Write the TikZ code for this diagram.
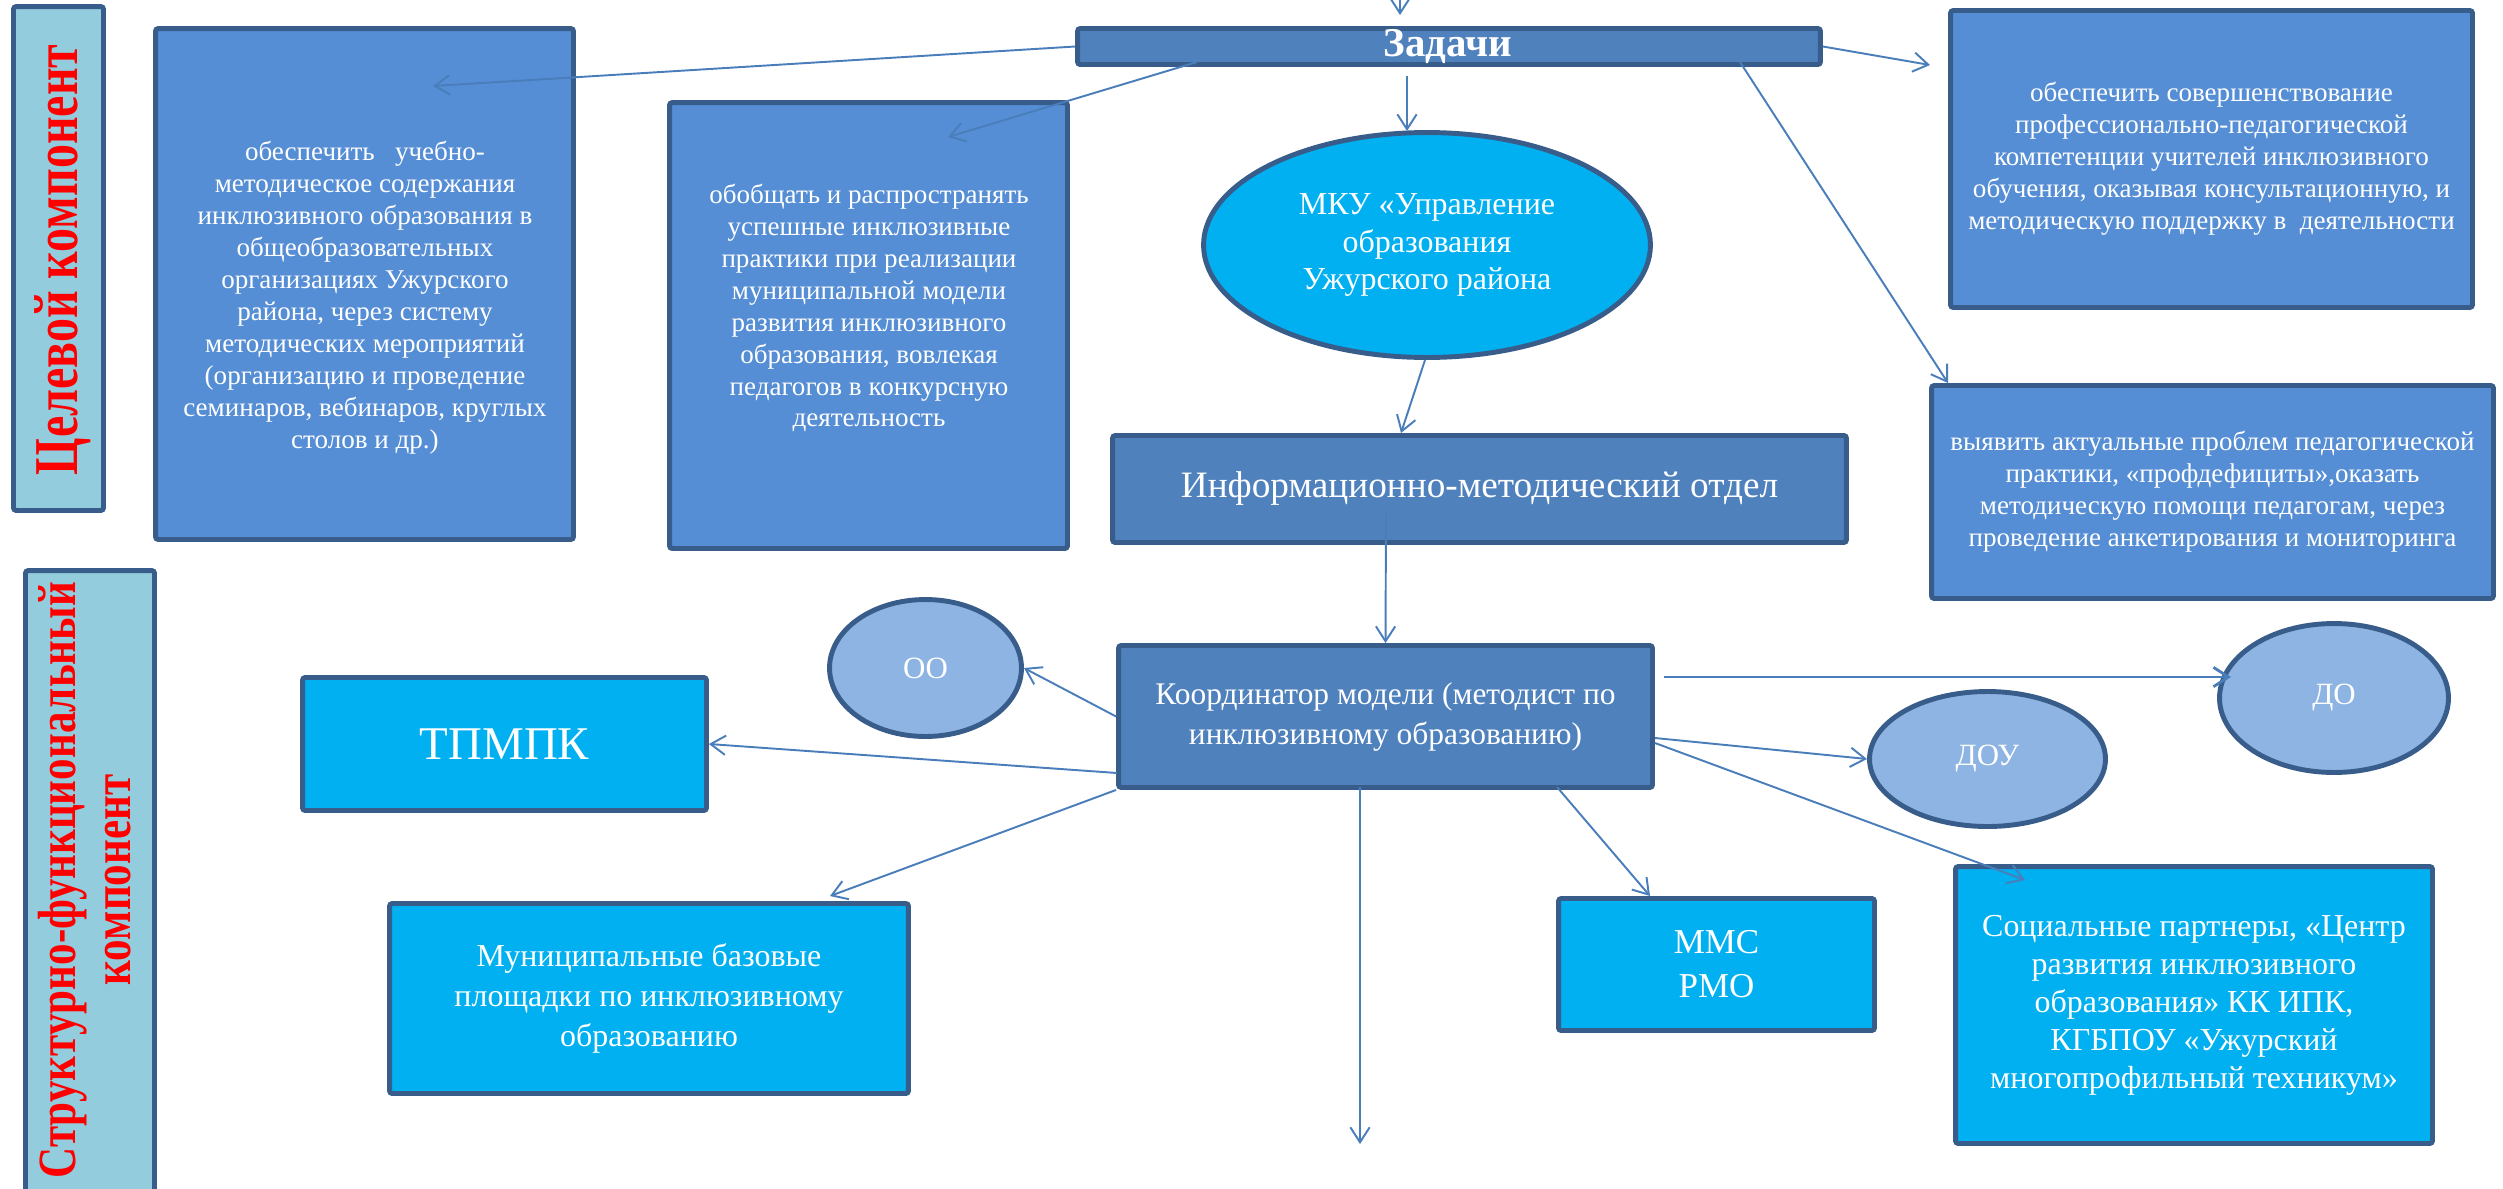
\documentclass[tikz,border=0pt]{standalone}
\usepackage{graphicx}
\usepackage{fontspec}
\setmainfont{Liberation Serif}
\usetikzlibrary{arrows.meta,shapes.geometric}
\definecolor{bord}{HTML}{385D8A}
\definecolor{barfill}{HTML}{93CDDD}
\definecolor{midblue}{HTML}{558ED5}
\definecolor{darkblue}{HTML}{4F81BD}
\definecolor{cyanf}{HTML}{00B0F0}
\definecolor{lightblue}{HTML}{8EB4E3}
\definecolor{arr}{HTML}{4A7EBB}
\begin{document}
\begin{tikzpicture}[x=0.02cm,y=-0.02cm,
  base/.style={draw=bord, line width=2.8pt, inner sep=0pt, text=white, align=center},
  bar/.style={base, rectangle, rounded corners=1.5pt, fill=barfill},
  mbox/.style={base, rectangle, rounded corners=1.5pt, fill=midblue},
  dbox/.style={base, rectangle, rounded corners=1.5pt, fill=darkblue},
  cbox/.style={base, rectangle, rounded corners=1.5pt, fill=cyanf},
  oval/.style={base, ellipse, fill=lightblue, font=\fontsize{17.6pt}{21pt}\selectfont},
  txt/.style={text=white, align=center, inner sep=0pt},
  redlab/.style={text=red, align=center, inner sep=0pt, rotate=90},
  con/.style={draw=arr, line width=1.1pt, -{Straight Barb[length=8.5pt,width=11pt]}},
  fsmall/.style={font=\fontsize{15.4pt}{18.2pt}\selectfont}
]
\useasboundingbox (0,0) rectangle (2503,1188);
\clip (0,0) rectangle (2503,1188);

% side bars
\node[bar, minimum width=1.8cm, minimum height=10.08cm] (bar1) at (58.5,258.5) {};
\node[redlab, font=\bfseries\fontsize{27.3pt}{32pt}\selectfont] (bar1t) at (63,260) {\scalebox{1}[1.3]{Целевой компонент}};
\node[bar, minimum width=2.58cm, minimum height=12.74cm] (bar2) at (90,889) {};
\node[redlab, font=\bfseries\fontsize{24.5pt}{25pt}\selectfont] (bar2t) at (92,880) {\scalebox{1}[1.25]{\begin{tabular}{@{}c@{}}Структурно-функциональный\\компонент\end{tabular}}};

% top row
\node[mbox, minimum width=8.36cm, minimum height=10.22cm] (b1) at (364.5,284) {};
\node[txt, fsmall] (b1t) at (365,298) {обеспечить~~~учебно-\\методическое содержания\\инклюзивного образования в\\общеобразовательных\\организациях Ужурского\\района, через систему\\методических мероприятий\\(организацию и проведение\\семинаров, вебинаров, круглых\\столов и др.)};

\node[mbox, minimum width=7.96cm, minimum height=8.92cm] (b2) at (868.5,325.5) {};
\node[txt, fsmall] (b2t) at (869,308) {обобщать и распространять\\успешные инклюзивные\\практики при реализации\\муниципальной модели\\развития инклюзивного\\образования, вовлекая\\педагогов в конкурсную\\деятельность};

\node[dbox, minimum width=14.86cm, minimum height=0.72cm] (zad) at (1449,46.5) {};
\node[txt, font=\bfseries\fontsize{23.3pt}{26pt}\selectfont] (zadt) at (1448,46) {Задачи};

\node[base, ellipse, fill=cyanf, minimum width=8.94cm, minimum height=4.5cm, font=\fontsize{18.2pt}{21.6pt}\selectfont] (ell) at (1427,245) {МКУ «Управление\\образования\\Ужурского района};

\node[mbox, minimum width=10.44cm, minimum height=5.94cm, fsmall] (b3) at (2211.5,159) {обеспечить совершенствование\\профессионально-педагогической\\компетенции учителей инклюзивного\\обучения, оказывая консультационную, и\\методическую поддержку в~~деятельности};

\node[mbox, minimum width=11.24cm, minimum height=4.26cm, fsmall] (b4) at (2212.5,492) {выявить актуальные проблем педагогической\\практики, «профдефициты»,оказать\\методическую помощи педагогам, через\\проведение анкетирования и мониторинга};

\node[dbox, minimum width=14.68cm, minimum height=2.14cm, font=\fontsize{21.2pt}{25pt}\selectfont] (imo) at (1479.5,489) {Информационно-методический отдел};

% lower part
\node[dbox, minimum width=10.68cm, minimum height=2.84cm, font=\fontsize{17.9pt}{22.8pt}\selectfont] (koord) at (1385.5,716.5) {Координатор модели (методист по\\инклюзивному образованию)};

\node[oval, minimum width=3.84cm, minimum height=2.74cm] (oo) at (925.5,668) {ОО};
\node[oval, minimum width=4.72cm, minimum height=2.7cm] (dou) at (1987.5,759) {ДОУ};
\node[oval, minimum width=4.58cm, minimum height=2.98cm] (do) at (2334,698) {ДО};

\node[cbox, minimum width=8.08cm, minimum height=2.66cm, font=\fontsize{26.7pt}{30pt}\selectfont] (tpmpk) at (504.5,744) {ТПМПК};
\node[cbox, minimum width=10.38cm, minimum height=3.8cm, font=\fontsize{18.2pt}{22.8pt}\selectfont] (mun) at (649,998.5) {Муниципальные базовые\\площадки по инклюзивному\\образованию};
\node[cbox, minimum width=6.32cm, minimum height=2.64cm, font=\fontsize{19.9pt}{25pt}\selectfont] (mms) at (1716.5,964.5) {ММС\\РМО};
\node[cbox, minimum width=9.54cm, minimum height=5.54cm, font=\fontsize{18.2pt}{21.6pt}\selectfont] (soc) at (2194,1005) {Социальные партнеры, «Центр\\развития инклюзивного\\образования» КК ИПК,\\КГБПОУ «Ужурский\\многопрофильный техникум»};

% connector end points
\coordinate (topin) at (1400,-5);
\coordinate (toptip) at (1400,15);
\coordinate (p1e) at (433,86);
\coordinate (p2s) at (1197,62);
\coordinate (p2e) at (948,137);
\coordinate (p3s) at (1407,76);
\coordinate (p3e) at (1407,131);
\coordinate (p4e) at (1930,65);
\coordinate (p5s) at (1740,62);
\coordinate (p5e) at (1948,383);
\coordinate (p6s) at (1425,360);
\coordinate (p6e) at (1401,433);
\coordinate (p7s) at (1386,513);
\coordinate (p9s) at (1117,773);
\coordinate (p10e) at (830,896);
\coordinate (p11s) at (1360,787);
\coordinate (p11e) at (1360,1144);
\coordinate (p12s) at (1557,787);
\coordinate (p12e) at (1650,896);
\coordinate (p13s) at (1655,743);
\coordinate (p13e) at (2025,880);
\coordinate (p14s) at (1655,738);
\coordinate (p15s) at (1664,677);
\coordinate (p15e) at (2231,677);

% connectors
\draw[con] (topin) -- (toptip);
\draw[con] (zad.west) -- (p1e);
\draw[con] (p2s) -- (p2e);
\draw[con] (p3s) -- (p3e);
\draw[con] (zad.east) -- (p4e);
\draw[con] (p5s) -- (p5e);
\draw[con] (p6s) -- (p6e);
\draw[con] (p7s) -- (koord.north);
\draw[con] (koord.west) -- (oo.east);
\draw[con] (p9s) -- (tpmpk.east);
\draw[con] (koord.south west) -- (p10e);
\draw[con] (p11s) -- (p11e);
\draw[con] (p12s) -- (p12e);
\draw[con] (p13s) -- (p13e);
\draw[con] (p14s) -- (dou.west);
\draw[con, line width=1.6pt] (p15s) -- (p15e);
\end{tikzpicture}
\end{document}
